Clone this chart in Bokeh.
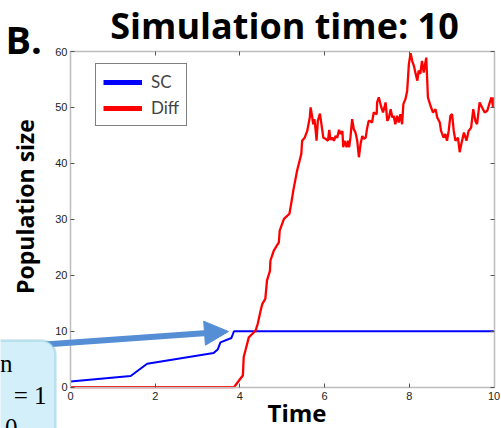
import math
from bokeh.plotting import figure
from bokeh.models import (Range1d, LinearAxis, FixedTicker, Legend, LegendItem,
                          Label, Arrow, NormalHead, BoxAnnotation)
from bokeh.embed import file_html
from bokeh.resources import INLINE

# ---------------- data ----------------
sc_time = [0, 1.42, 1.81, 3.38, 3.48, 3.54, 3.80, 3.86, 10]
sc_pop = [1, 2, 4.2, 6.1, 6.8, 8.0, 8.8, 10, 10]

diff_time = [
    0, 3.86, 4.01, 4.07, 4.09, 4.13, 4.21, 4.29, 4.37, 4.42,
    4.49, 4.53, 4.60, 4.64, 4.71, 4.72, 4.80, 4.92, 4.94, 5.04,
    5.17, 5.21, 5.26, 5.29, 5.35, 5.39, 5.45, 5.47, 5.53, 5.59,
    5.65, 5.67, 5.71, 5.73, 5.76, 5.79, 5.81, 5.84, 5.89, 5.92,
    5.97, 6.02, 6.08, 6.11, 6.14, 6.18, 6.22, 6.26, 6.30, 6.34,
    6.38, 6.42, 6.44, 6.47, 6.52, 6.55, 6.58, 6.61, 6.65, 6.69,
    6.73, 6.77, 6.81, 6.85, 6.89, 6.93, 6.97, 7.00, 7.04, 7.07,
    7.12, 7.16, 7.23, 7.24, 7.28, 7.34, 7.38, 7.44, 7.48, 7.52,
    7.56, 7.60, 7.63, 7.67, 7.71, 7.75, 7.79, 7.83, 7.86, 7.91,
    7.95, 7.99, 8.03, 8.07, 8.11, 8.15, 8.19, 8.22, 8.26, 8.30,
    8.34, 8.40, 8.44, 8.50, 8.56, 8.62, 8.66, 8.72, 8.75, 8.81,
    8.85, 8.89, 8.93, 8.97, 9.01, 9.05, 9.09, 9.15, 9.19, 9.23,
    9.29, 9.35, 9.40, 9.46, 9.51, 9.56, 9.60, 9.66, 9.72, 9.78,
    9.84, 9.90, 9.94, 9.98, 10.0,
]
diff_pop = [
    0, 0, 1.5, 2.1, 5.4, 6.55, 8.9, 9.5, 10.1, 11.3,
    13.7, 14.9, 15.8, 19.1, 20.8, 22.6, 24.4, 25.9, 28.0, 30.1,
    31.0, 32.75, 35.1, 36.3, 38.7, 39.9, 41.7, 44.05, 44.6, 45.8,
    48.2, 50.0, 48.2, 47.0, 47.9, 45.8, 44.05, 47.6, 48.9, 47.3,
    44.6, 44.4, 44.05, 46.0, 44.2, 44.6, 44.05, 44.9, 44.6, 46.0,
    45.25, 45.8, 42.9, 44.05, 42.9, 44.05, 42.9, 44.6, 47.9, 46.1,
    45.5, 44.05, 41.1, 43.5, 44.9, 44.4, 44.6, 46.1, 47.6, 47.6,
    47.3, 49.1, 48.8, 50.9, 51.8, 50.0, 49.1, 50.9, 47.6, 48.2,
    49.7, 48.2, 48.5, 47.0, 48.5, 47.3, 48.8, 47.0, 50.6, 51.5,
    53.0, 57.75, 59.7, 58.3, 57.4, 56.0, 54.8, 56.6, 56.0, 58.3,
    56.25, 58.9, 51.8, 50.3, 49.1, 49.7, 48.2, 47.3, 45.8, 44.6,
    45.25, 44.05, 45.8, 48.5, 48.8, 45.8, 44.05, 44.6, 42.0, 43.5,
    45.5, 44.05, 45.8, 46.4, 49.7, 47.6, 47.0, 50.9, 50.0, 49.1,
    49.4, 50.9, 51.8, 50.0, 51.8,
]

x_ticks = [0, 2, 4, 6, 8, 10]
y_ticks = [0, 10, 20, 30, 40, 50, 60]
x_bounds = (0, 10)
y_bounds = (0, 60)
series_labels = ["SC", "Diff"]
title_text = "Simulation time: 10"
panel_text = "B."
x_label = "Time"
y_label = "Population size"
callout_lines = ["n", "= 1", "0"]

# ---------------- geometry (canvas pixels of the axes box) ----------------
W, H = 501, 428
BOX_L, BOX_R, BOX_T, BOX_B = 70.0, 493.5, 51.0, 386.7
sx = (BOX_R - BOX_L) / (x_bounds[1] - x_bounds[0])
sy = (BOX_B - BOX_T) / (y_bounds[1] - y_bounds[0])
SHIFT = 0.37  # baseline correction (fraction of font size)

def dx(px):
    return x_bounds[0] + (px - BOX_L) / sx

def dy(py):
    return y_bounds[0] + (BOX_B - py) / sy

p = figure(width=W, height=H,
           min_border_left=0, min_border_right=0,
           min_border_top=0, min_border_bottom=0,
           x_range=Range1d(dx(0), dx(W)), y_range=Range1d(dy(H), dy(0)),
           output_backend="svg", toolbar_location=None)
p.title.visible = False
p.background_fill_color = "white"
p.border_fill_color = "white"
p.outline_line_color = None
p.grid.visible = False

AXIS_COLOR = "#bdbdbd"
TICK_COLOR = "#555555"

def style_axis(ax, labels=True):
    ax.axis_line_color = AXIS_COLOR
    ax.axis_line_width = 1.5
    ax.major_tick_in = 4
    ax.major_tick_out = 0
    ax.major_tick_line_color = TICK_COLOR
    ax.minor_tick_line_color = None
    if labels:
        ax.major_label_text_font = "Liberation Sans"
        ax.major_label_text_font_size = "11px"
        ax.major_label_text_color = "#222222"
    else:
        ax.major_label_text_color = None

xa = p.xaxis[0]
ya = p.yaxis[0]
xa.ticker = FixedTicker(ticks=x_ticks)
ya.ticker = FixedTicker(ticks=y_ticks)
xa.fixed_location = y_bounds[0]
ya.fixed_location = x_bounds[0]
xa.bounds = x_bounds
ya.bounds = y_bounds
style_axis(xa)
style_axis(ya)
xa.major_label_standoff = 5
ya.major_label_standoff = 3

top_ax = LinearAxis(ticker=FixedTicker(ticks=x_ticks), fixed_location=y_bounds[1], bounds=x_bounds)
right_ax = LinearAxis(ticker=FixedTicker(ticks=y_ticks), fixed_location=x_bounds[1], bounds=y_bounds)
style_axis(top_ax, labels=False)
style_axis(right_ax, labels=False)
p.add_layout(top_ax, "above")
p.add_layout(right_ax, "right")

# ---------------- lines ----------------
r_sc = p.line(sc_time, sc_pop, line_color="#0000ff", line_width=2)
r_diff = p.line(diff_time, diff_pop, line_color="#ff0000", line_width=2.3)

# thick legend swatches (single-point lines draw nothing on the plot)
leg_sc = p.line(sc_time[:1], sc_pop[:1], line_color="#0000ff", line_width=5)
leg_diff = p.line(diff_time[:1], diff_pop[:1], line_color="#ff0000", line_width=5)

legend = Legend(items=[LegendItem(label=series_labels[0], renderers=[leg_sc]),
                       LegendItem(label=series_labels[1], renderers=[leg_diff])],
                location=(95, 302))
legend.border_line_color = "black"
legend.border_line_width = 1.5
legend.background_fill_color = "white"
legend.background_fill_alpha = 1
legend.label_text_font = "Lato"
legend.label_text_font_size = "17px"
legend.glyph_width = 39
legend.glyph_height = 20
legend.label_height = 20
legend.label_standoff = 9
legend.spacing = 5
legend.padding = 7
legend.margin = 0
p.add_layout(legend, "center")

# ---------------- texts ----------------
BOLD = dict(text_font="Open Sans", text_font_style="bold", text_color="black")

def text_at(txt, px, py, size, align="center", angle=0.0, **kw):
    # px, py: wanted baseline anchor in canvas pixels
    if angle:
        px = px - SHIFT * size
    else:
        py = py - SHIFT * size
    p.add_layout(Label(x=dx(px), y=dy(py), text=txt, angle=angle,
                       text_font_size=f"{size}px", text_align=align,
                       text_baseline="alphabetic", **kw))

text_at(title_text, 284, 38, 36, **BOLD)
text_at(panel_text, 5, 53, 38, align="left", **BOLD)
text_at(y_label, 33.5, 206, 23, angle=math.pi / 2, **BOLD)
text_at(x_label, 296.5, 421, 24, **BOLD)

# ---------------- callout (arrow + box) ----------------
arrow_color = "#558ed5"
p.add_layout(Arrow(x_start=dx(30), y_start=dy(345), x_end=dx(228), y_end=dy(331),
                   line_color=arrow_color, line_width=6,
                   end=NormalHead(size=24, fill_color=arrow_color,
                                  line_color=arrow_color, line_width=1)))
p.add_layout(BoxAnnotation(left=dx(-60), right=dx(55), top=dy(340), bottom=dy(470),
                           fill_color="#d3f0fa", fill_alpha=1,
                           line_color="#5aaec8", line_width=2.5,
                           border_radius=14))
for txt, px, py in zip(callout_lines, [12, 46, 17], [372, 404, 436]):
    text_at(txt, px, py, 25, align="right", text_font="Liberation Serif",
            text_color="black")

open("out.html", "w").write(file_html(p, INLINE))
